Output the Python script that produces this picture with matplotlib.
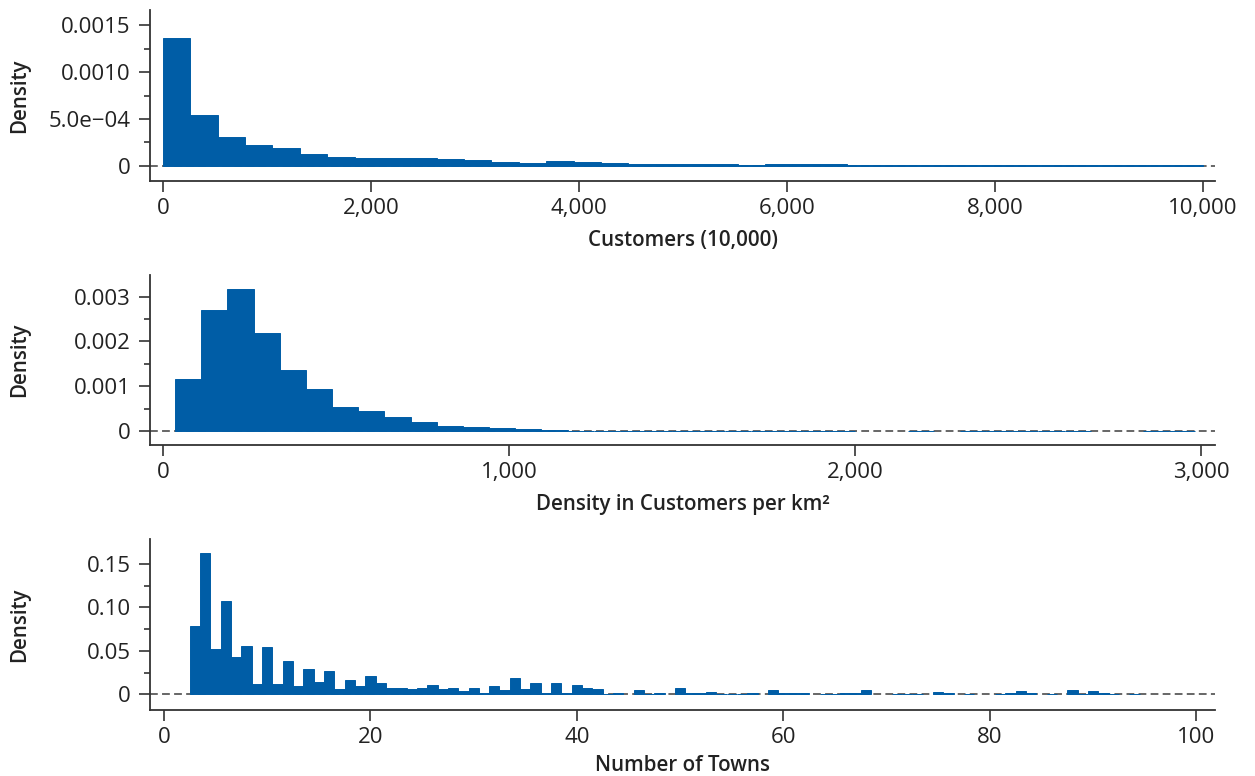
import numpy as np
import matplotlib
matplotlib.use("Agg")
import matplotlib.pyplot as plt

plt.rcParams['font.family'] = ['Open Sans', 'DejaVu Sans']

# ---------------- data ----------------
# Panel 1: Customers (10,000) -- 38 bins from 0 to 10,000
cust_start = 0.0
cust_width = 10000 / 38
cust_density = [135.8e-5, 53.9e-5, 30.8e-5, 22.0e-5, 19.1e-5, 12.4e-5, 9.2e-5, 8.2e-5,
                8.2e-5, 8.2e-5, 7.1e-5, 6.0e-5, 3.9e-5, 2.8e-5, 5.0e-5, 3.9e-5,
                2.8e-5, 1.8e-5, 1.8e-5, 2.1e-5, 2.1e-5, 0.7e-5, 2.1e-5, 2.1e-5,
                2.1e-5, 1.0e-5, 1.0e-5, 1.0e-5, 0.8e-5, 1.0e-5, 1.0e-5, 0.8e-5,
                1.0e-5, 0.6e-5, 0.6e-5, 1.0e-5, 1.0e-5, 1.0e-5]

# Panel 2: Density in customers per km2 -- 39 bins from ~35
dens_start = 35.0
dens_width = 75.6
dens_density = [0.001164, 0.002708, 0.003178, 0.002193, 0.001365, 0.000940, 0.000537,
                0.000448, 0.000313, 0.000201, 0.000112, 0.0000895, 0.000060, 0.000035,
                0.000033, 0.000010, 0.000010, 0.000010, 0.000010, 0.000010, 0.000010,
                0.000010, 0.000010, 0.000010, 0.000010, 0.000010, 0.0, 0.0,
                0.000010, 0.0, 0.000010, 0.000010, 0.000010, 0.000010, 0.000010,
                0.0, 0.0, 0.000010, 0.000010]

# Panel 3: Number of towns (discrete, 3..94)
towns = list(range(3, 95))
towns_density = [0.0786, 0.1626, 0.0521, 0.1074, 0.0429, 0.0556, 0.0119, 0.0544,
                 0.0119, 0.0383, 0.0096, 0.0291, 0.0142, 0.0268, 0.0061, 0.0165,
                 0.0096, 0.0211, 0.0130, 0.0073, 0.0073, 0.0061, 0.0073, 0.0107,
                 0.0061, 0.0073, 0.0038, 0.0073, 0.0015, 0.0096, 0.0050, 0.0188,
                 0.0061, 0.0130, 0.0015, 0.0130, 0.0015, 0.0107, 0.0071, 0.0060,
                 0.0005, 0.0012, 0.0, 0.0046, 0.0005, 0.0012, 0.0, 0.0069,
                 0.0012, 0.0012, 0.0023, 0.0005, 0.0005, 0.0005, 0.0012, 0.0,
                 0.0046, 0.0012, 0.0012, 0.0012, 0.0, 0.0005, 0.0005, 0.0012,
                 0.0012, 0.0046, 0.0, 0.0, 0.0005, 0.0005, 0.0005, 0.0,
                 0.0023, 0.0012, 0.0, 0.0005, 0.0, 0.0, 0.0005, 0.0012,
                 0.0035, 0.0012, 0.0, 0.0005, 0.0, 0.0046, 0.0005, 0.0035,
                 0.0012, 0.0005, 0.0, 0.0005]

# tick labels
cust_xticks = [0, 2000, 4000, 6000, 8000, 10000]
cust_xticklabels = ['0', '2,000', '4,000', '6,000', '8,000', '10,000']
cust_yticks = [0, 0.0005, 0.0010, 0.0015]
cust_yticklabels = ['0', '5.0e\u221204', '0.0010', '0.0015']

dens_xticks = [0, 1000, 2000, 3000]
dens_xticklabels = ['0', '1,000', '2,000', '3,000']
dens_yticks = [0, 0.001, 0.002, 0.003]
dens_yticklabels = ['0', '0.001', '0.002', '0.003']

towns_xticks = [0, 20, 40, 60, 80, 100]
towns_xticklabels = ['0', '20', '40', '60', '80', '100']
towns_yticks = [0, 0.05, 0.10, 0.15]
towns_yticklabels = ['0', '0.05', '0.10', '0.15']

xlabels = ['Customers (10,000)', 'Density in Customers per km\u00b2', 'Number of Towns']
ylabel = 'Density'

# ---------------- style ----------------
BAR = '#005da6'
SPINE = '#333333'
TEXT = '#222222'

fig = plt.figure(figsize=(12.55, 7.76), dpi=100)

W, H = 1255, 776
def add_axes(l, r, t, b):
    return fig.add_axes([l / W, 1 - b / H, (r - l) / W, (b - t) / H])

ax1 = add_axes(150, 1215, 10, 181)
ax2 = add_axes(150, 1215, 275, 445)
ax3 = add_axes(150, 1215, 539, 710)


def draw(ax, left_edges, heights, width, xlim, ylim, xt, xtl, yt, ytl, minor_y, xlabel,
         labelpad=8):
    left_edges = np.asarray(left_edges, dtype=float)
    heights = np.asarray(heights, dtype=float)
    m = heights > 0
    ax.axhline(0, color='#666666', lw=1.4, ls=(0, (4, 2.2)), zorder=1)
    ax.bar(left_edges[m], heights[m], width=width, align='edge', color=BAR,
           edgecolor=BAR, linewidth=0.7, zorder=2)
    ax.set_xlim(*xlim)
    ax.set_ylim(*ylim)
    ax.set_xticks(xt)
    ax.set_xticklabels(xtl)
    ax.set_yticks(yt)
    ax.set_yticklabels(ytl)
    ax.set_yticks(minor_y, minor=True)
    for s in ['top', 'right']:
        ax.spines[s].set_visible(False)
    for s in ['left', 'bottom']:
        ax.spines[s].set_color(SPINE)
        ax.spines[s].set_linewidth(1.3)
    ax.tick_params(axis='both', which='major', length=8, width=1.2, color=SPINE,
                   labelsize=16, labelcolor=TEXT, pad=4)
    ax.tick_params(axis='y', which='minor', length=4, width=1.2, color=SPINE)
    ax.tick_params(axis='y', which='major', pad=6)
    ax.set_xlabel(xlabel, fontsize=14.8, fontweight='semibold', color=TEXT,
                  labelpad=labelpad)
    ax.set_ylabel(ylabel, fontsize=14.8, fontweight='semibold', color=TEXT, labelpad=10)
    ax.patch.set_visible(False)


cust_edges = cust_start + cust_width * np.arange(len(cust_density))
draw(ax1, cust_edges, cust_density, cust_width, (-125, 10115), (-0.00016, 0.00166),
     cust_xticks, cust_xticklabels, cust_yticks, cust_yticklabels,
     [0.00025, 0.00075, 0.00125], xlabels[0])

dens_edges = dens_start + dens_width * np.arange(len(dens_density))
draw(ax2, dens_edges, dens_density, dens_width, (-37.6, 3040), (-0.000313, 0.003485),
     dens_xticks, dens_xticklabels, dens_yticks, dens_yticklabels,
     [0.0005, 0.0015, 0.0025], xlabels[1])

towns_edges = np.asarray(towns, dtype=float) - 0.5
draw(ax3, towns_edges, towns_density, 1.0, (-1.35, 101.8), (-0.0181, 0.1788),
     towns_xticks, towns_xticklabels, towns_yticks, towns_yticklabels,
     [0.025, 0.075, 0.125], xlabels[2], labelpad=5)

# align y labels
for ax in (ax1, ax2, ax3):
    ax.yaxis.set_label_coords(-120 / 1065, 0.5)

fig.savefig('out.png', dpi=100, facecolor='white')
